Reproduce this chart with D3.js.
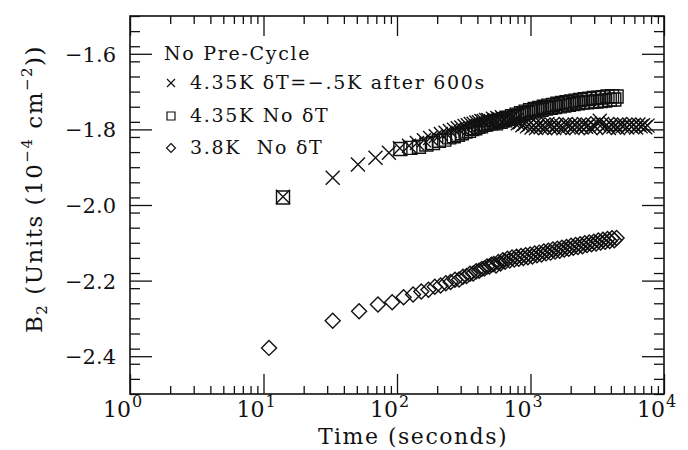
<!DOCTYPE html>
<html>
<head>
<meta charset="utf-8">
<script src="https://cdn.jsdelivr.net/npm/d3@7"></script>
<style>
  body { margin: 0; background: #fff; }
  svg text { font-family: "DejaVu Serif", serif; fill: #111; }
</style>
</head>
<body>
<div id="vis"></div>
<script>
// chart size
const W = 688, H = 450;
const margin = { top: 16, right: 24, bottom: 56, left: 130 };

// data: [time (s), B2]
// 4.35K, dT = -.5K after 600s
const crossPts = [
  [14, -1.978], [33, -1.928], [51, -1.893], [69, -1.875], [87, -1.862],
  [105, -1.850], [123, -1.843], [141, -1.836], [159, -1.829], [177, -1.823], [195, -1.818],
  [213, -1.812], [231, -1.809], [249, -1.804], [267, -1.801], [285, -1.797], [303, -1.795],
  [321, -1.791], [339, -1.789], [357, -1.786], [375, -1.785], [393, -1.782], [411, -1.781],
  [429, -1.778], [447, -1.778], [465, -1.775], [483, -1.775],
  [503, -1.778], [523, -1.772], [544, -1.776], [565, -1.770], [588, -1.774], [611, -1.768],
  [636, -1.773], [661, -1.769], [688, -1.775], [715, -1.771], [744, -1.779], [774, -1.776],
  [805, -1.784], [837, -1.781], [870, -1.789], [905, -1.785], [941, -1.792], [979, -1.787],
  [1018, -1.795], [1059, -1.789], [1101, -1.796], [1145, -1.787], [1191, -1.794], [1239, -1.789],
  [1288, -1.797], [1340, -1.786], [1393, -1.793], [1449, -1.788], [1507, -1.796], [1567, -1.787],
  [1630, -1.794], [1695, -1.790], [1763, -1.797], [1834, -1.786], [1907, -1.792], [1983, -1.789],
  [2063, -1.796], [2145, -1.787], [2231, -1.794], [2320, -1.788], [2413, -1.795], [2510, -1.786],
  [2610, -1.793], [2714, -1.789], [2823, -1.797], [2936, -1.788], [3053, -1.793], [3175, -1.784],
  [3302, -1.777], [3434, -1.786], [3572, -1.794], [3714, -1.788], [3863, -1.796], [4018, -1.787],
  [4178, -1.793], [4346, -1.789], [4519, -1.796], [4700, -1.786], [4888, -1.792], [5084, -1.789],
  [5287, -1.795], [5498, -1.787], [5718, -1.793], [5947, -1.788], [6185, -1.795], [6432, -1.787],
  [6690, -1.792], [6957, -1.789], [7236, -1.794], [7525, -1.790]
];

// 4.35K, no dT
const squarePts = [
  [14, -1.980],
  [106, -1.852], [126, -1.849], [146, -1.846], [166, -1.840], [186, -1.836], [206, -1.830],
  [226, -1.827], [246, -1.821], [266, -1.818], [286, -1.814], [306, -1.810], [326, -1.806],
  [346, -1.804], [366, -1.799], [386, -1.797], [406, -1.793], [426, -1.792], [446, -1.788],
  [466, -1.787], [486, -1.783],
  [510, -1.784], [531, -1.781], [552, -1.784], [574, -1.777], [597, -1.780], [621, -1.773],
  [646, -1.776], [672, -1.769], [699, -1.772], [727, -1.765], [756, -1.768], [786, -1.761],
  [817, -1.764], [850, -1.757], [884, -1.760], [919, -1.753], [956, -1.756], [994, -1.749],
  [1034, -1.753], [1075, -1.746], [1118, -1.750], [1163, -1.743], [1209, -1.748], [1258, -1.740],
  [1308, -1.745], [1360, -1.737], [1415, -1.743], [1471, -1.735], [1530, -1.741], [1591, -1.732],
  [1655, -1.739], [1721, -1.730], [1790, -1.737], [1862, -1.728], [1936, -1.735], [2014, -1.726],
  [2094, -1.733], [2178, -1.724], [2265, -1.731], [2356, -1.722], [2450, -1.729], [2548, -1.720],
  [2650, -1.728], [2756, -1.719], [2866, -1.727], [2981, -1.717], [3100, -1.726], [3224, -1.716],
  [3353, -1.725], [3487, -1.715], [3627, -1.724], [3772, -1.713], [3923, -1.722], [4080, -1.712],
  [4243, -1.721], [4413, -1.713]
];

// 3.8K, no dT
const diamondPts = [
  [11, -2.378], [33, -2.306], [52, -2.281], [72, -2.263], [92, -2.257],
  [112, -2.244], [132, -2.237], [152, -2.229], [172, -2.224], [192, -2.216], [212, -2.213],
  [232, -2.207], [252, -2.204], [272, -2.198], [292, -2.197], [312, -2.190], [332, -2.188],
  [352, -2.182], [372, -2.181], [392, -2.175], [412, -2.174], [432, -2.169], [452, -2.168],
  [472, -2.163], [492, -2.163],
  [510, -2.158], [531, -2.156], [552, -2.160], [574, -2.151], [597, -2.155], [621, -2.146],
  [646, -2.150], [672, -2.142], [699, -2.147], [727, -2.139], [756, -2.144], [786, -2.137],
  [817, -2.142], [850, -2.135], [884, -2.140], [919, -2.133], [956, -2.138], [994, -2.131],
  [1034, -2.136], [1075, -2.128], [1118, -2.133], [1163, -2.126], [1209, -2.131], [1258, -2.123],
  [1308, -2.128], [1360, -2.121], [1415, -2.126], [1471, -2.118], [1530, -2.123], [1591, -2.116],
  [1655, -2.121], [1721, -2.113], [1790, -2.118], [1862, -2.111], [1936, -2.116], [2014, -2.108],
  [2094, -2.113], [2178, -2.106], [2265, -2.111], [2356, -2.104], [2450, -2.109], [2548, -2.101],
  [2650, -2.106], [2756, -2.099], [2866, -2.104], [2981, -2.097], [3100, -2.102], [3224, -2.094],
  [3353, -2.099], [3487, -2.092], [3627, -2.097], [3772, -2.090], [3923, -2.095], [4080, -2.088],
  [4243, -2.093], [4413, -2.087]
];

// axis labels
const xDecades = [0, 1, 2, 3, 4];
const yMajor = [-2.4, -2.2, -2.0, -1.8, -1.6];
const legendTitle = "No Pre-Cycle";
const legendItems = [
  { sym: "cross", label: "4.35K \u03B4T=\u2212.5K after 600s" },
  { sym: "square", label: "4.35K No \u03B4T" },
  { sym: "diamond", label: "3.8K\u00A0 No \u03B4T" }
];

const svg = d3.select("#vis").append("svg")
  .attr("width", W).attr("height", H);

const x = d3.scaleLog().domain([1, 1e4]).range([margin.left, W - margin.right]);
const y = d3.scaleLinear().domain([-2.5, -1.5]).range([H - margin.bottom, margin.top]);

// marker shapes
function markerPath(sym, r) {
  if (sym === "cross") return `M${-r},${-r}L${r},${r}M${-r},${r}L${r},${-r}`;
  if (sym === "square") return `M${-r},${-r}H${r}V${r}H${-r}Z`;
  return `M0,${-r}L${r},0L0,${r}L${-r},0Z`;
}

// ticks, all pointing into the frame
const xMajor = xDecades.map(d => 10 ** d);
const xMinor = x.ticks().filter(v => !xMajor.includes(v));
const yMinor = d3.range(0, 26).map(i => -2.5 + i * 0.04);

const bottomY = H - margin.bottom, topY = margin.top;
const leftX = margin.left, rightX = W - margin.right;

function styleAxis(g) {
  g.select(".domain").remove();
  g.selectAll(".tick line").attr("stroke", "#111").attr("stroke-width", 1.3);
  g.selectAll(".tick text").remove();
}

const axes = svg.append("g").attr("class", "axes");
axes.append("g").attr("transform", `translate(0,${bottomY})`)
  .call(d3.axisBottom(x).tickValues(xMajor).tickSize(-20)).call(styleAxis);
axes.append("g").attr("transform", `translate(0,${bottomY})`)
  .call(d3.axisBottom(x).tickValues(xMinor).tickSize(-8)).call(styleAxis);
axes.append("g").attr("transform", `translate(0,${topY})`)
  .call(d3.axisTop(x).tickValues(xMajor).tickSize(-20)).call(styleAxis);
axes.append("g").attr("transform", `translate(0,${topY})`)
  .call(d3.axisTop(x).tickValues(xMinor).tickSize(-8)).call(styleAxis);
axes.append("g").attr("transform", `translate(${leftX},0)`)
  .call(d3.axisLeft(y).tickValues(yMajor).tickSize(-22)).call(styleAxis);
axes.append("g").attr("transform", `translate(${leftX},0)`)
  .call(d3.axisLeft(y).tickValues(yMinor).tickSize(-10)).call(styleAxis);
axes.append("g").attr("transform", `translate(${rightX},0)`)
  .call(d3.axisRight(y).tickValues(yMajor).tickSize(-22)).call(styleAxis);
axes.append("g").attr("transform", `translate(${rightX},0)`)
  .call(d3.axisRight(y).tickValues(yMinor).tickSize(-10)).call(styleAxis);

// frame
svg.append("rect")
  .attr("x", leftX).attr("y", topY)
  .attr("width", rightX - leftX).attr("height", bottomY - topY)
  .attr("fill", "none").attr("stroke", "#111").attr("stroke-width", 1.6);

// y tick labels
svg.selectAll(".ylab").data(yMajor).enter().append("text")
  .attr("class", "ylab")
  .attr("x", leftX - 14).attr("y", d => y(d) + 8)
  .attr("text-anchor", "end")
  .style("font-size", "21px")
  .text(d => "\u2212" + Math.abs(d).toFixed(1));

// x tick labels: "10" ends at the tick, exponent raised after it
svg.selectAll(".xlab").data(xDecades).enter().append("text")
  .attr("class", "xlab")
  .attr("x", d => x(10 ** d) + 1).attr("y", bottomY + 23)
  .attr("text-anchor", "end")
  .style("font-size", "22px")
  .text("10");
svg.selectAll(".xexp").data(xDecades).enter().append("text")
  .attr("class", "xexp")
  .attr("x", d => x(10 ** d) + 2).attr("y", bottomY + 13)
  .style("font-size", "16px")
  .text(d => d);

// axis titles
svg.append("text")
  .attr("x", 413).attr("y", H - 6)
  .attr("text-anchor", "middle")
  .style("font-size", "22px")
  .style("letter-spacing", "1.5px")
  .text("Time (seconds)");

const yt = svg.append("text")
  .attr("transform", `translate(42,${(topY + bottomY) / 2 - 16}) rotate(-90)`)
  .attr("text-anchor", "middle")
  .style("font-size", "23px")
  .style("letter-spacing", "1.5px");
yt.append("tspan").text("B");
yt.append("tspan").attr("dy", 5).style("font-size", "15px").text("2");
yt.append("tspan").attr("dy", -5).text(" (Units (10");
yt.append("tspan").attr("dy", -10).style("font-size", "15px").text("\u22124");
yt.append("tspan").attr("dy", 10).text(" cm");
yt.append("tspan").attr("dy", -10).style("font-size", "15px").text("\u22122");
yt.append("tspan").attr("dy", 10).text("))");

// data markers
const series = [
  { sym: "cross", pts: crossPts, r: 7 },
  { sym: "square", pts: squarePts, r: 6.5 },
  { sym: "diamond", pts: diamondPts, r: 7.5 }
];
series.forEach(s => {
  svg.append("g").selectAll("path").data(s.pts).enter().append("path")
    .attr("transform", d => `translate(${x(d[0])},${y(d[1])})`)
    .attr("d", markerPath(s.sym, s.r))
    .attr("fill", "none")
    .attr("stroke", "#111")
    .attr("stroke-width", 1.4);
});

// legend
const lg = svg.append("g").attr("class", "legend")
  .style("font-size", "19px").style("letter-spacing", "1.7px");
lg.append("text").attr("x", 164).attr("y", 60).text(legendTitle);
const rows = [89, 122, 154];
legendItems.forEach((it, i) => {
  lg.append("path")
    .attr("transform", `translate(171,${rows[i] - 6})`)
    .attr("d", markerPath(it.sym, it.sym === "diamond" ? 4.5 : 4))
    .attr("fill", "none").attr("stroke", "#111").attr("stroke-width", 1.2);
  lg.append("text").attr("x", 190).attr("y", rows[i]).text(it.label);
});
</script>
</body>
</html>
